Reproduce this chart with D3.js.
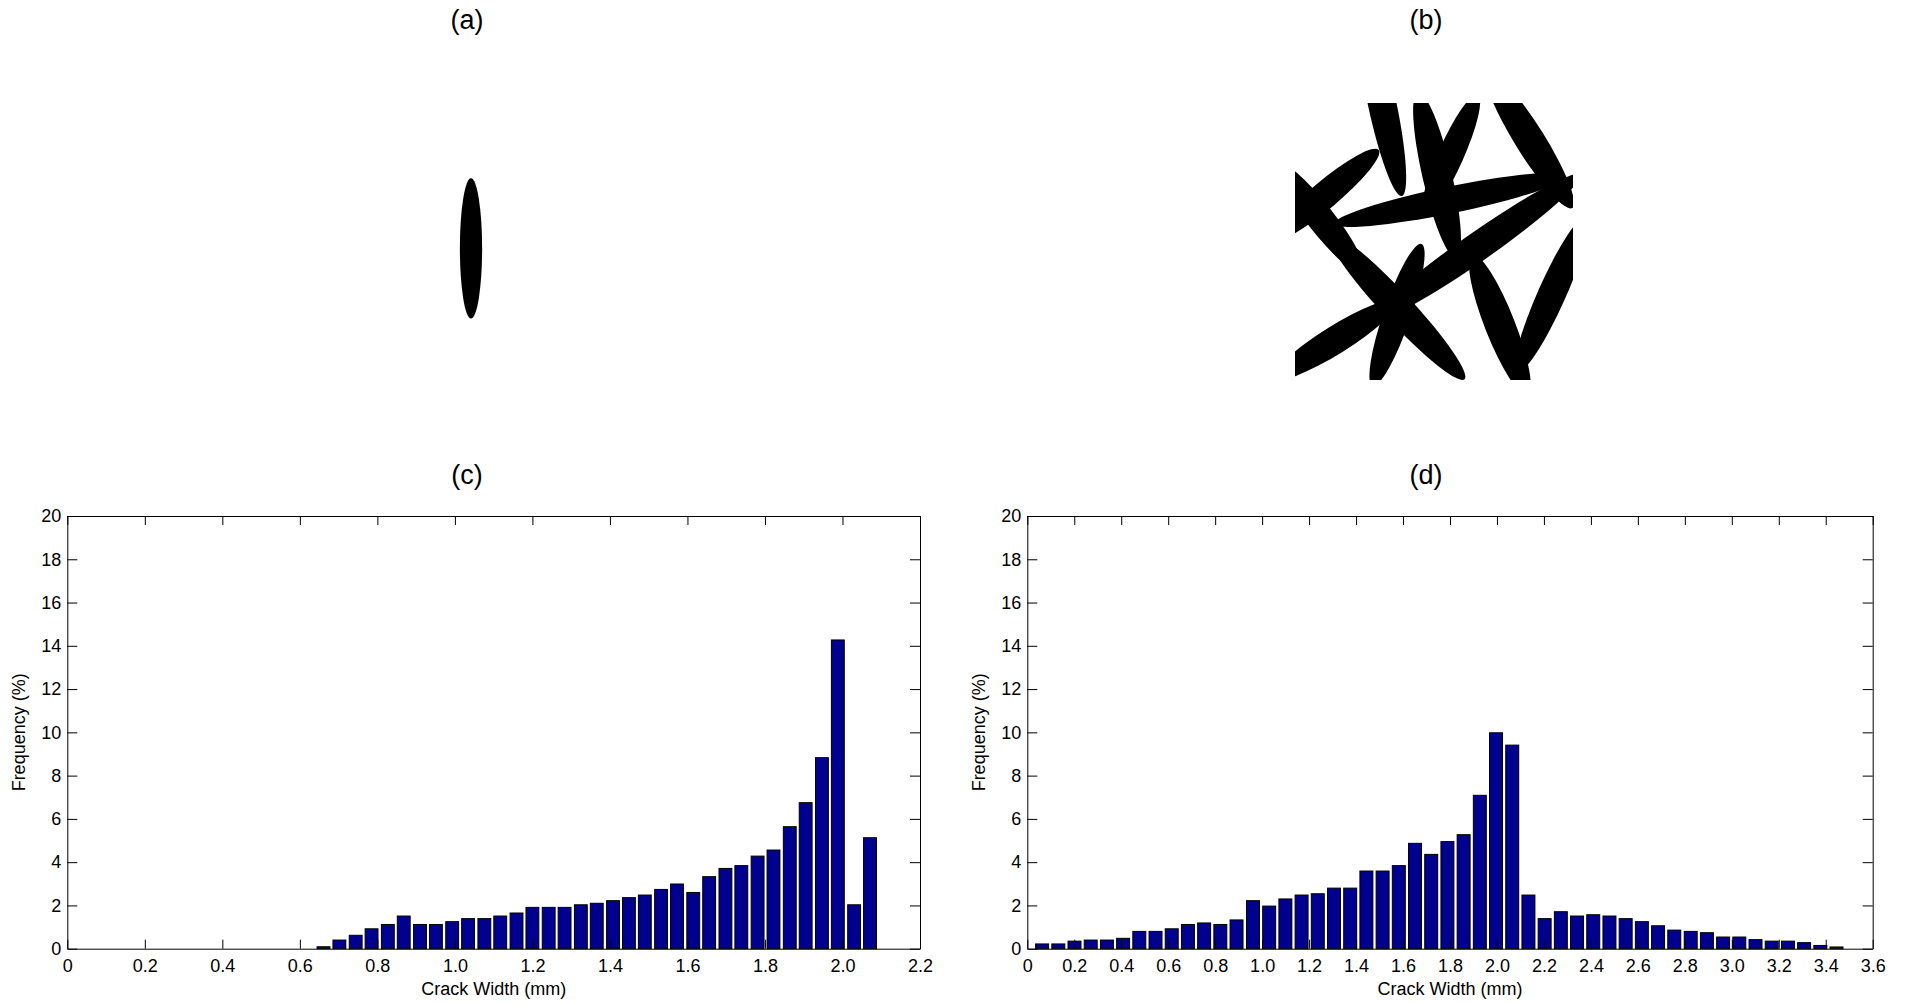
<!DOCTYPE html>
<html>
<head>
<meta charset="utf-8">
<script src="https://cdn.jsdelivr.net/npm/d3@7"></script>
<style>
  body { margin: 0; background: #fff; }
  svg { display: block; font-family: Arial, "Liberation Sans", sans-serif; }
</style>
</head>
<body>
<div id="fig"></div>
<script>
// histogram (c): bin centres (mm) and frequency (%)
const crackWidthC = [0.661, 0.702, 0.744, 0.785, 0.827, 0.868, 0.910, 0.951, 0.993, 1.034,
  1.076, 1.117, 1.159, 1.200, 1.242, 1.283, 1.325, 1.366, 1.408, 1.449,
  1.490, 1.532, 1.573, 1.615, 1.656, 1.698, 1.739, 1.781, 1.822, 1.864,
  1.905, 1.947, 1.988, 2.030, 2.071];
const frequencyC = [0.09, 0.40, 0.62, 0.92, 1.12, 1.51, 1.12, 1.12, 1.25, 1.39,
  1.39, 1.51, 1.65, 1.91, 1.91, 1.91, 2.03, 2.10, 2.22, 2.36,
  2.48, 2.74, 2.99, 2.60, 3.33, 3.71, 3.84, 4.28, 4.56, 5.64,
  6.75, 8.83, 14.27, 2.03, 5.13];
const binC = 0.04147;

// histogram (d)
const crackWidthD = [0.063, 0.132, 0.201, 0.270, 0.339, 0.408, 0.477, 0.546, 0.615, 0.684,
  0.753, 0.822, 0.891, 0.961, 1.030, 1.099, 1.168, 1.237, 1.306, 1.375,
  1.444, 1.513, 1.582, 1.651, 1.720, 1.789, 1.858, 1.927, 1.996, 2.065,
  2.134, 2.203, 2.272, 2.341, 2.410, 2.479, 2.548, 2.617, 2.686, 2.755,
  2.825, 2.894, 2.963, 3.032, 3.101, 3.170, 3.239, 3.308, 3.377, 3.446];
const frequencyD = [0.22, 0.22, 0.35, 0.40, 0.40, 0.48, 0.80, 0.80, 0.92, 1.12,
  1.19, 1.12, 1.33, 2.22, 1.97, 2.30, 2.48, 2.54, 2.80, 2.80,
  3.59, 3.59, 3.84, 4.87, 4.36, 4.95, 5.27, 7.09, 9.98, 9.41,
  2.48, 1.39, 1.71, 1.51, 1.57, 1.51, 1.39, 1.25, 1.06, 0.86,
  0.80, 0.74, 0.54, 0.54, 0.42, 0.35, 0.35, 0.28, 0.15, 0.08];
const binD = 0.06904;

const yTicks = [0, 2, 4, 6, 8, 10, 12, 14, 16, 18, 20];
const xTicksC = [0, 0.2, 0.4, 0.6, 0.8, 1.0, 1.2, 1.4, 1.6, 1.8, 2.0, 2.2];
const xTicksD = [0, 0.2, 0.4, 0.6, 0.8, 1.0, 1.2, 1.4, 1.6, 1.8, 2.0, 2.2, 2.4, 2.6, 2.8, 3.0, 3.2, 3.4, 3.6];

// crack patterns, field units 0-100: centre, half-length, half-width, angle (deg)
const singleX = [50], singleY = [52.5], singleLen = [25.2], singleWid = [4.0], singleAng = [90];
const netX   = [31.3, 51.1, 56.1, 84.5, 55.8, 10.8, 9.0, 36.7, 36.7, 14.4, 65.5, 73.7, 92.4];
const netY   = [0, 26.0, 18.8, 13.4, 35.0, 33.2, 41.5, 73.6, 76.5, 85.6, 52.0, 80.1, 69.0];
const netLen = [34.2, 30.6, 23.7, 28.8, 42.4, 25.2, 25.2, 35.6, 27.0, 25.9, 45.0, 27.0, 30.6];
const netWid = [5.1, 5.3, 4.6, 5.3, 4.8, 4.9, 4.9, 5.3, 4.9, 5.0, 5.2, 5.4, 5.0];
const netAng = [78, 77, -66, 58, -11.6, -40, 52, 47, -71, -32, -35, 68.5, -66];

const svg = d3.select("#fig").append("svg")
  .attr("width", 1911)
  .attr("height", 1003);

svg.append("rect").attr("width", 1911).attr("height", 1003).attr("fill", "#fff");

function title(label, x, y) {
  svg.append("text")
    .attr("x", x).attr("y", y)
    .attr("text-anchor", "middle")
    .attr("font-size", 27)
    .text(label);
}

function crackPanel(xs, ys, lens, wids, angs, box, id) {
  const x = d3.scaleLinear().domain([0, 100]).range([box.left, box.right]);
  const y = d3.scaleLinear().domain([0, 100]).range([box.top, box.bottom]);
  const k = x(1) - x(0);
  svg.append("clipPath").attr("id", id)
    .append("rect")
    .attr("x", box.left).attr("y", box.top)
    .attr("width", box.right - box.left).attr("height", box.bottom - box.top);
  svg.append("g")
    .attr("clip-path", `url(#${id})`)
    .selectAll("ellipse")
    .data(xs.map((d, i) => i))
    .join("ellipse")
    .attr("transform", i => `translate(${x(xs[i])},${y(ys[i])}) rotate(${angs[i]})`)
    .attr("rx", i => lens[i] * k)
    .attr("ry", i => wids[i] * k)
    .attr("fill", "#000");
}

function histogram(widths, freqs, bin, xTicks, box) {
  const x = d3.scaleLinear().domain([0, d3.max(xTicks)]).range([box.left, box.right]);
  const y = d3.scaleLinear().domain([0, 20]).range([box.bottom, box.top]);
  const g = svg.append("g");
  const fmtX = d => d === 0 ? "0" : d3.format(".1f")(d);

  g.selectAll("rect.bar")
    .data(widths.map((w, i) => ({ w: w, f: freqs[i] })))
    .join("rect")
    .attr("class", "bar")
    .attr("x", d => x(d.w - 0.4 * bin))
    .attr("width", d => x(d.w + 0.4 * bin) - x(d.w - 0.4 * bin))
    .attr("y", d => y(d.f))
    .attr("height", d => y(0) - y(d.f))
    .attr("fill", "#00008f")
    .attr("stroke", "#000")
    .attr("stroke-width", 1);

  const axes = [
    g.append("g").attr("transform", `translate(0,${box.bottom})`)
      .call(d3.axisBottom(x).tickValues(xTicks).tickFormat(fmtX).tickSizeInner(-9).tickSizeOuter(0).tickPadding(11)),
    g.append("g").attr("transform", `translate(0,${box.top})`)
      .call(d3.axisTop(x).tickValues(xTicks).tickFormat("").tickSizeInner(-9).tickSizeOuter(0)),
    g.append("g").attr("transform", `translate(${box.left},0)`)
      .call(d3.axisLeft(y).tickValues(yTicks).tickFormat(d3.format("d")).tickSizeInner(-10).tickSizeOuter(0).tickPadding(6)),
    g.append("g").attr("transform", `translate(${box.right},0)`)
      .call(d3.axisRight(y).tickValues(yTicks).tickFormat("").tickSizeInner(-10).tickSizeOuter(0))
  ];
  axes.forEach(a => {
    a.attr("font-size", 18).attr("font-family", "Arial, 'Liberation Sans', sans-serif");
    a.selectAll("path, line").attr("stroke", "#000");
    a.selectAll("text").attr("fill", "#000");
  });

  g.append("text")
    .attr("x", (box.left + box.right) / 2)
    .attr("y", 995)
    .attr("text-anchor", "middle")
    .attr("font-size", 18)
    .text("Crack Width (mm)");

  g.append("text")
    .attr("transform", `translate(${box.left - 42},${(box.top + box.bottom) / 2}) rotate(-90)`)
    .attr("text-anchor", "middle")
    .attr("font-size", 18)
    .text("Frequency (%)");
}

title("(a)", 467, 29);
title("(b)", 1426, 29);
title("(c)", 467, 484);
title("(d)", 1426, 484);

crackPanel(singleX, singleY, singleLen, singleWid, singleAng,
  { left: 332, right: 610, top: 103, bottom: 380 }, "clipA");
crackPanel(netX, netY, netLen, netWid, netAng,
  { left: 1295, right: 1573, top: 103, bottom: 380 }, "clipB");

histogram(crackWidthC, frequencyC, binC, xTicksC, { left: 67.3, right: 920, top: 516, bottom: 948.7 });
histogram(crackWidthD, frequencyD, binD, xTicksD, { left: 1027.3, right: 1872.7, top: 516, bottom: 948.7 });
</script>
</body>
</html>
